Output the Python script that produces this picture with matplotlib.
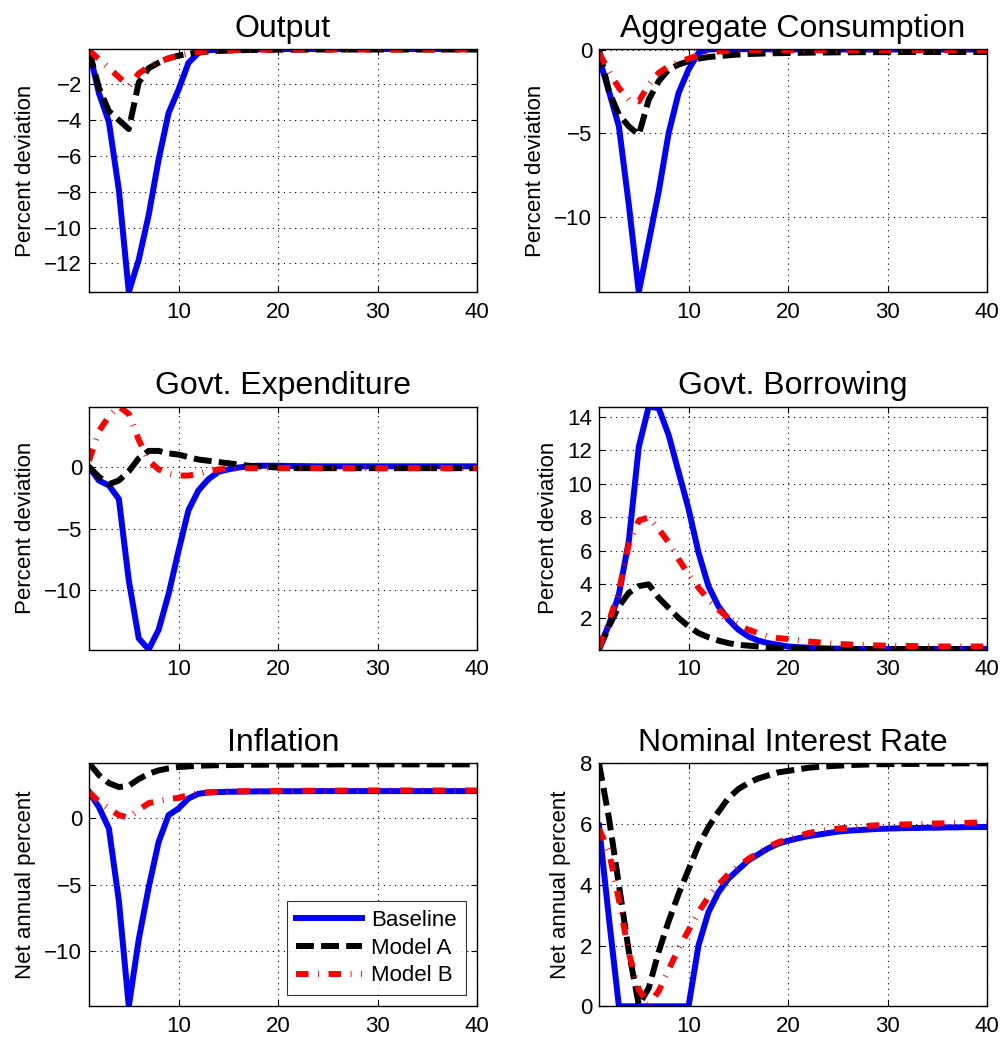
import matplotlib
matplotlib.use('Agg')
import matplotlib.pyplot as plt
from matplotlib.ticker import MultipleLocator

plt.rcParams['font.family'] = ['Liberation Sans', 'DejaVu Sans']

# quarters after the shock
periods = list(range(1, 41))

# Output
output_base = [-0.1, -2.5, -4.1, -7.9, -13.6, -11.8, -9.3, -6.2, -3.6, -2.3,
               -0.8, -0.25, -0.1, -0.06, -0.05, -0.04, -0.04, -0.03, -0.03, -0.03,
               -0.03, -0.03, -0.03, -0.03, -0.03, -0.03, -0.03, -0.03, -0.03, -0.03,
               -0.03, -0.03, -0.03, -0.03, -0.03, -0.03, -0.03, -0.03, -0.03, -0.03]
output_a = [-0.1, -2.2, -3.5, -4.0, -4.5, -1.9, -1.1, -0.8, -0.55, -0.4,
            -0.3, -0.22, -0.17, -0.14, -0.12, -0.1, -0.09, -0.08, -0.08, -0.07,
            -0.07, -0.07, -0.06, -0.06, -0.06, -0.06, -0.06, -0.06, -0.06, -0.06,
            -0.06, -0.06, -0.06, -0.06, -0.06, -0.06, -0.06, -0.06, -0.06, -0.06]
output_b = [-0.1, -0.6, -1.1, -1.6, -2.1, -1.4, -1.0, -0.75, -0.55, -0.4,
            -0.28, -0.2, -0.15, -0.12, -0.1, -0.09, -0.08, -0.07, -0.07, -0.06,
            -0.06, -0.06, -0.06, -0.06, -0.06, -0.06, -0.06, -0.06, -0.06, -0.06,
            -0.06, -0.06, -0.06, -0.06, -0.06, -0.06, -0.06, -0.06, -0.06, -0.06]

# Aggregate consumption
cons_base = [-0.5, -2.5, -4.6, -9.3, -14.5, -11.5, -8.5, -5.0, -2.6, -1.2,
             -0.2, 0.0, 0.03, 0.03, 0.02, 0.02, 0.01, 0.01, 0.0, 0.0,
             0.0, 0.0, 0.0, 0.0, 0.0, 0.0, 0.0, 0.0, 0.0, 0.0,
             0.0, 0.0, 0.0, 0.0, 0.0, 0.0, 0.0, 0.0, 0.0, 0.0]
cons_a = [0.0, -2.5, -3.9, -4.6, -5.1, -3.0, -1.9, -1.2, -0.9, -0.7,
          -0.55, -0.45, -0.4, -0.35, -0.3, -0.27, -0.25, -0.23, -0.22, -0.21,
          -0.2, -0.19, -0.18, -0.18, -0.17, -0.17, -0.16, -0.16, -0.16, -0.16,
          -0.15, -0.15, -0.15, -0.15, -0.15, -0.15, -0.15, -0.15, -0.15, -0.15]
cons_b = [-0.2, -1.3, -2.3, -3.0, -3.1, -2.1, -1.4, -1.0, -0.75, -0.55,
          -0.35, -0.2, -0.12, -0.08, -0.06, -0.05, -0.05, -0.05, -0.05, -0.05,
          -0.05, -0.05, -0.05, -0.05, -0.05, -0.05, -0.05, -0.05, -0.05, -0.05,
          -0.05, -0.05, -0.05, -0.05, -0.05, -0.05, -0.05, -0.05, -0.05, -0.05]

# Govt. expenditure
gexp_base = [0.0, -1.1, -1.5, -2.6, -9.2, -13.9, -14.8, -13.2, -10.3, -6.8,
             -3.5, -1.9, -1.0, -0.4, -0.2, -0.05, 0.05, 0.1, 0.1, 0.1,
             0.08, 0.07, 0.06, 0.05, 0.05, 0.05, 0.05, 0.05, 0.05, 0.05,
             0.05, 0.05, 0.05, 0.05, 0.05, 0.05, 0.05, 0.05, 0.05, 0.05]
gexp_a = [0.0, -0.8, -1.4, -1.1, -0.35, 0.7, 1.3, 1.3, 1.1, 1.0,
          0.8, 0.6, 0.5, 0.4, 0.3, 0.2, 0.1, 0.05, 0.0, -0.05,
          -0.08, -0.1, -0.1, -0.1, -0.1, -0.1, -0.1, -0.1, -0.1, -0.1,
          -0.1, -0.1, -0.1, -0.1, -0.1, -0.1, -0.1, -0.1, -0.1, -0.1]
gexp_b = [0.5, 2.9, 4.1, 4.9, 4.3, 2.2, 0.5, -0.2, -0.55, -0.7,
          -0.7, -0.55, -0.35, -0.2, -0.15, -0.12, -0.1, -0.1, -0.1, -0.1,
          -0.1, -0.1, -0.1, -0.1, -0.1, -0.1, -0.1, -0.1, -0.1, -0.1,
          -0.1, -0.1, -0.1, -0.1, -0.1, -0.1, -0.1, -0.1, -0.1, -0.1]

# Govt. borrowing
gbor_base = [0.2, 1.6, 3.4, 6.6, 12.2, 14.6, 14.5, 12.9, 10.7, 8.5,
             5.9, 3.9, 2.7, 1.9, 1.3, 0.9, 0.65, 0.5, 0.4, 0.3,
             0.26, 0.23, 0.2, 0.18, 0.17, 0.16, 0.15, 0.15, 0.15, 0.15,
             0.15, 0.15, 0.15, 0.15, 0.15, 0.15, 0.15, 0.15, 0.15, 0.15]
gbor_a = [0.12, 1.5, 2.7, 3.5, 3.9, 4.0, 3.2, 2.6, 2.0, 1.5,
          1.1, 0.85, 0.65, 0.5, 0.4, 0.35, 0.3, 0.25, 0.22, 0.2,
          0.18, 0.17, 0.16, 0.15, 0.15, 0.15, 0.15, 0.15, 0.15, 0.15,
          0.15, 0.15, 0.15, 0.15, 0.15, 0.15, 0.15, 0.15, 0.15, 0.15]
gbor_b = [0.2, 1.8, 3.6, 6.4, 7.8, 8.0, 7.3, 6.5, 5.5, 4.6,
          3.8, 3.1, 2.5, 2.0, 1.6, 1.3, 1.1, 0.9, 0.8, 0.75,
          0.68, 0.6, 0.55, 0.5, 0.45, 0.42, 0.4, 0.38, 0.36, 0.35,
          0.34, 0.33, 0.32, 0.31, 0.3, 0.3, 0.3, 0.3, 0.3, 0.3]

# Inflation
infl_base = [1.95, 0.8, -0.8, -6.2, -14.1, -9.1, -5.2, -1.8, 0.2, 0.7,
             1.45, 1.8, 1.9, 1.93, 1.95, 1.96, 1.97, 1.98, 1.98, 1.99,
             1.99, 1.99, 2.0, 2.0, 2.0, 2.0, 2.0, 2.0, 2.0, 2.0,
             2.0, 2.0, 2.0, 2.0, 2.0, 2.0, 2.0, 2.0, 2.0, 2.0]
infl_a = [4.08, 3.2, 2.6, 2.3, 2.4, 2.9, 3.3, 3.55, 3.7, 3.8,
          3.85, 3.9, 3.92, 3.94, 3.95, 3.96, 3.97, 3.97, 3.98, 3.98,
          3.98, 3.99, 3.99, 3.99, 3.99, 4.0, 4.0, 4.0, 4.0, 4.0,
          4.0, 4.0, 4.0, 4.0, 4.0, 4.0, 4.0, 4.0, 4.0, 4.0]
infl_b = [1.95, 1.2, 0.7, 0.2, 0.02, 0.6, 1.1, 1.25, 1.4, 1.5,
          1.7, 1.85, 1.9, 1.95, 1.97, 1.98, 2.0, 2.0, 2.01, 2.02,
          2.02, 2.03, 2.03, 2.03, 2.04, 2.04, 2.04, 2.04, 2.05, 2.05,
          2.05, 2.05, 2.05, 2.05, 2.05, 2.05, 2.05, 2.05, 2.05, 2.05]

# Nominal interest rate
rate_base = [5.95, 2.9, 0.0, 0.0, 0.0, 0.0, 0.0, 0.0, 0.0, 0.0,
             2.0, 3.1, 3.75, 4.2, 4.5, 4.8, 5.0, 5.2, 5.35, 5.45,
             5.53, 5.6, 5.65, 5.7, 5.75, 5.78, 5.8, 5.82, 5.84, 5.85,
             5.86, 5.87, 5.87, 5.88, 5.88, 5.89, 5.89, 5.9, 5.9, 5.9]
rate_a = [8.0, 6.2, 4.0, 1.8, 0.05, 0.6, 1.8, 2.8, 3.7, 4.5,
          5.3, 5.9, 6.4, 6.85, 7.15, 7.35, 7.5, 7.6, 7.7, 7.75,
          7.8, 7.85, 7.88, 7.9, 7.92, 7.94, 7.95, 7.96, 7.97, 7.97,
          7.98, 7.98, 7.98, 7.99, 7.99, 7.99, 8.0, 8.0, 8.0, 8.0]
rate_b = [5.85, 5.1, 3.5, 1.75, 0.55, 0.05, 0.5, 1.2, 1.9, 2.5,
          3.1, 3.6, 4.0, 4.35, 4.6, 4.85, 5.05, 5.25, 5.4, 5.5,
          5.6, 5.7, 5.76, 5.81, 5.85, 5.88, 5.91, 5.94, 5.96, 5.97,
          5.98, 5.99, 6.0, 6.01, 6.02, 6.03, 6.04, 6.04, 6.05, 6.05]

titles = ['Output', 'Aggregate Consumption', 'Govt. Expenditure',
          'Govt. Borrowing', 'Inflation', 'Nominal Interest Rate']
ylabels = ['Percent deviation', 'Percent deviation', 'Percent deviation',
           'Percent deviation', 'Net annual percent', 'Net annual percent']
series = [(output_base, output_a, output_b), (cons_base, cons_a, cons_b),
          (gexp_base, gexp_a, gexp_b), (gbor_base, gbor_a, gbor_b),
          (infl_base, infl_a, infl_b), (rate_base, rate_a, rate_b)]
ystep = [2, 5, 5, 2, 5, 2]
labels = ['Baseline', 'Model A', 'Model B']

W, H = 1004, 1041
fig = plt.figure(figsize=(W / 100, H / 100), dpi=100)

lefts = [89, 599]
tops = [49, 406.5, 763.3]
aw, ah = 388, 243

lw = 4.3
for i in range(6):
    r, c = divmod(i, 2)
    ax = fig.add_axes([lefts[c] / W, 1 - (tops[r] + ah) / H, aw / W, ah / H])
    base, ma, mb = series[i]
    ax.plot(periods, base, color='#0000ff', lw=lw, label=labels[0],
            solid_joinstyle='miter')
    ax.plot(periods, ma, color='black', lw=lw, label=labels[1],
            linestyle=(0, (3.0, 1.2)), dash_capstyle='butt')
    ax.plot(periods, mb, color='#ff0000', lw=lw, label=labels[2],
            linestyle=(0, (2.1, 1.6, 0.15, 1.6)), dash_capstyle='butt')
    allv = list(base) + list(ma) + list(mb)
    ax.set_xlim(1, 40)
    ax.set_ylim(min(allv), max(allv))
    ax.xaxis.set_major_locator(MultipleLocator(10))
    ax.yaxis.set_major_locator(MultipleLocator(ystep[i]))
    ax.grid(True, color='black', linestyle=(0, (1, 4)), linewidth=0.8)
    ax.tick_params(direction='in', length=4, width=0.8, labelsize=16,
                   top=True, right=True)
    ax.tick_params(axis='x', pad=7)
    ax.tick_params(axis='y', pad=5)
    for sp in ax.spines.values():
        sp.set_linewidth(1.0)
    ax.set_title(titles[i], fontsize=23, pad=9)
    ax.set_ylabel(ylabels[i], fontsize=16, labelpad=6)
    if i == 4:
        leg = ax.legend(loc='lower right', fontsize=16, frameon=True,
                        fancybox=False, edgecolor='black', handlelength=3.0,
                        handletextpad=0.4, borderpad=0.4, labelspacing=0.3,
                        borderaxespad=0.5)
        leg.get_frame().set_linewidth(0.8)

fig.savefig('out.png', dpi=100)
